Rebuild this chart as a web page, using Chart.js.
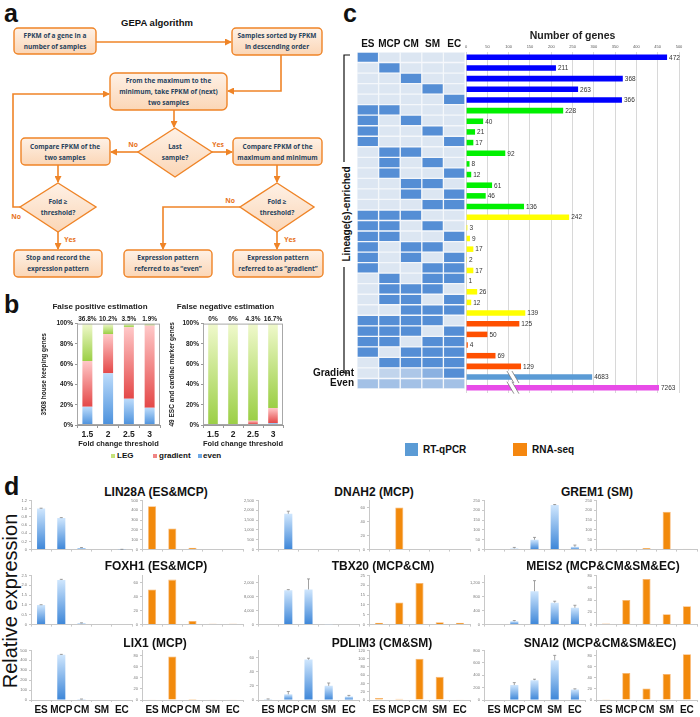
<!DOCTYPE html>
<html>
<head>
<meta charset="utf-8">
<script src="https://cdn.jsdelivr.net/npm/chart.js@4.4.1/dist/chart.umd.min.js"></script>
<style>
  body { margin: 0; background: #fff; }
  #fig { position: relative; width: 700px; height: 717px; overflow: hidden; font-family: "Liberation Sans", Arial, sans-serif; color: #111; }
  .panel { position: absolute; font-weight: bold; font-size: 25px; line-height: 1; }
  .gene { position: absolute; font-weight: bold; font-size: 12px; white-space: nowrap; transform: translate(-50%, -50%); }
  .leg { position: absolute; font-weight: bold; white-space: nowrap; }
  .sq { position: absolute; }
</style>
</head>
<body>
<div id="fig">
  <div class="panel" style="left:4px;top:1px">a</div>
  <div class="panel" style="left:4px;top:292px">b</div>
  <div class="panel" style="left:343px;top:1px">c</div>
  <div class="panel" style="left:4px;top:474px">d</div>

  <!-- GEPA flow chart -->
  <svg width="340" height="282" style="position:absolute;left:0;top:0" font-family="'Open Sans', sans-serif">
    <defs>
      <linearGradient id="bx" x1="0" y1="0" x2="0" y2="1">
        <stop offset="0" stop-color="#fef1e6"/>
        <stop offset="1" stop-color="#fbd6b6"/>
      </linearGradient>
      <marker id="ar" markerWidth="7" markerHeight="7" refX="6" refY="3.5" orient="auto" markerUnits="userSpaceOnUse">
        <path d="M0,0 L7,3.5 L0,7 z" fill="#ef8427"/>
      </marker>
    </defs>
    <text x="157" y="26" text-anchor="middle" font-family="'Liberation Sans', Arial" font-size="9.5" font-weight="bold" fill="#111">GEPA  algorithm</text>
    <g stroke="#ef8427" stroke-width="1.6" fill="none" marker-end="url(#ar)">
      <path d="M96,42 H231"/>
      <path d="M281,55 V91 H228"/>
      <path d="M174,110 V127"/>
      <path d="M138,152 H111"/>
      <path d="M212,152 H232"/>
      <path d="M58,165 V182"/>
      <path d="M22,207 H13 V94 H109"/>
      <path d="M58,232 V249"/>
      <path d="M277,165 V182"/>
      <path d="M241,207 H163 V249"/>
      <path d="M277,232 V249"/>
    </g>
    <g fill="url(#bx)" stroke="#ef8427" stroke-width="1.4">
      <rect x="14" y="28" width="82" height="26" rx="4"/>
      <rect x="232" y="28" width="90" height="27" rx="4"/>
      <rect x="110" y="73" width="117" height="37" rx="5"/>
      <polygon points="175,128 212,152 175,177 138,152"/>
      <rect x="21" y="138" width="89" height="27" rx="4"/>
      <rect x="233" y="138" width="89" height="27" rx="4"/>
      <polygon points="58,183 96,207 58,232 20,207"/>
      <polygon points="277,183 314,207 277,232 240,207"/>
      <rect x="14" y="250" width="88" height="27" rx="4"/>
      <rect x="124" y="250" width="88" height="27" rx="4"/>
      <rect x="233" y="250" width="90" height="27" rx="4"/>
    </g>
    <g font-size="6.5" font-weight="bold" fill="#27425c" text-anchor="middle" dominant-baseline="middle">
      <text x="55" y="36">FPKM of a gene in a</text>
      <text x="55" y="47">number of samples</text>
      <text x="277" y="36">Samples sorted by FPKM</text>
      <text x="277" y="47">in descending order</text>
      <text x="168.5" y="81">From the maximum to the</text>
      <text x="168.5" y="92">minimum, take FPKM of (next)</text>
      <text x="168.5" y="103">two samples</text>
      <text x="175" y="147">Last</text>
      <text x="175" y="158">sample?</text>
      <text x="65" y="147">Compare FPKM of the</text>
      <text x="65" y="158">two samples</text>
      <text x="277.5" y="147">Compare FPKM of the</text>
      <text x="277.5" y="158">maximum and minimum</text>
      <text x="58" y="202">Fold ≥</text>
      <text x="58" y="213">threshold?</text>
      <text x="277" y="202">Fold ≥</text>
      <text x="277" y="213">threshold?</text>
      <text x="58" y="258">Stop and record the</text>
      <text x="58" y="269">expression pattern</text>
      <text x="168" y="258">Expression pattern</text>
      <text x="168" y="269">referred to as “even”</text>
      <text x="278" y="258">Expression pattern</text>
      <text x="278" y="269">referred to as “gradient”</text>
    </g>
    <g font-size="6.8" font-weight="bold" fill="#e8741c" text-anchor="middle" dominant-baseline="middle">
      <text x="133" y="145">No</text>
      <text x="218" y="145">Yes</text>
      <text x="16" y="217">No</text>
      <text x="70" y="240">Yes</text>
      <text x="230" y="201">No</text>
      <text x="290" y="240">Yes</text>
    </g>
  </svg>

  <!-- panel b legend -->
  <div class="sq" style="left:111px;top:454px;width:4px;height:4px;background:#c5e37a"></div>
  <div class="leg" style="left:117px;top:451px;font-size:8px">LEG</div>
  <div class="sq" style="left:153px;top:454px;width:4px;height:4px;background:#f08585"></div>
  <div class="leg" style="left:159px;top:451px;font-size:8px">gradient</div>
  <div class="sq" style="left:198px;top:454px;width:4px;height:4px;background:#6fa9e6"></div>
  <div class="leg" style="left:203px;top:451px;font-size:8px">even</div>

  <!-- panel c bracket and side label -->
  <svg width="30" height="340" style="position:absolute;left:334px;top:50px">
    <path d="M16,5 H10 V112 M10,217 V323 H16" stroke="#111" stroke-width="1.2" fill="none"/>
    <text transform="translate(13,164) rotate(-90)" text-anchor="middle" dominant-baseline="middle" font-family="'Liberation Sans', Arial" font-size="10" font-weight="bold" fill="#111">Lineage(s)-enriched</text>
  </svg>

  <!-- RT-qPCR / RNA-seq legend -->
  <div class="sq" style="left:405px;top:443px;width:13px;height:13px;background:#5b9bd5"></div>
  <div class="leg" style="left:423px;top:444px;font-size:10px">RT-qPCR</div>
  <div class="sq" style="left:513px;top:443px;width:14px;height:13px;background:#f5870f"></div>
  <div class="leg" style="left:532px;top:444px;font-size:10px">RNA-seq</div>

  <div style="position:absolute;left:10px;top:601px;transform:translate(-50%,-50%) rotate(-90deg);font-size:20px;white-space:nowrap">Relative expression</div>
</div>

<script>
// ---- panel b: GEPA false positive / false negative estimation ----
const thresholds = ["1.5", "2", "2.5", "3"];
const fpEven = [18, 51, 26, 17];
const fpGradient = [45.2, 38.8, 70.5, 81.1];
const fpLeg = [36.8, 10.2, 3.5, 1.9];
const fpTopLabels = ["36.8%", "10.2%", "3.5%", "1.9%"];
const fnEven = [0, 0, 0.8, 2];
const fnGradient = [0, 0, 3.5, 14.7];
const fnLeg = [100, 100, 95.7, 83.3];
const fnTopLabels = ["0%", "0%", "4.3%", "16.7%"];

// ---- panel c: lineage patterns and gene counts ----
const sampleCols = ["ES", "MCP", "CM", "SM", "EC"];
const lineageRows = [
  [1,0,0,0,0],[0,1,0,0,0],[0,0,1,0,0],[0,0,0,1,0],[0,0,0,0,1],
  [1,1,0,0,0],[1,0,1,0,0],[1,0,0,1,0],[1,0,0,0,1],[0,1,1,0,0],
  [0,1,0,1,0],[0,1,0,0,1],[0,0,1,1,0],[0,0,1,0,1],[0,0,0,1,1],
  [1,1,1,0,0],[1,1,0,1,0],[1,1,0,0,1],[1,0,1,1,0],[1,0,1,0,1],
  [1,0,0,1,1],[0,1,0,1,1],[0,1,1,1,0],[0,1,1,0,1],[0,0,1,1,1],
  [1,1,1,1,0],[1,1,1,0,1],[1,1,0,1,1],[1,0,1,1,1],[0,1,1,1,1]
];
const gradientRow = [0, 0.2, 0.35, 0.6, 1];
const evenRow = [0.42, 0.42, 0.42, 0.42, 0.42];
const geneCounts = [472, 211, 368, 263, 366, 228, 40, 21, 17, 92, 8, 12, 61, 46, 136,
  242, 3, 9, 17, 2, 17, 1, 26, 12, 139, 125, 50, 4, 69, 129, 4683, 7263];
const brokenShown = [296, 453]; // drawn length of the broken Gradient / Even bars
const breakAt = 110;

// ---- panel d: RT-qPCR vs RNA-seq ----
const cellTypes = ["ES", "MCP", "CM", "SM", "EC"];
const geneNames = ["LIN28A (ES&MCP)", "DNAH2 (MCP)", "GREM1 (SM)",
  "FOXH1 (ES&MCP)", "TBX20 (MCP&CM)", "MEIS2 (MCP&CM&SM&EC)",
  "LIX1 (MCP)", "PDLIM3 (CM&SM)", "SNAI2 (MCP&CM&SM&EC)"];
const qpcrMean = [
  [1.0, 0.77, 0.04, 0, 0.005], [0, 1820, 0, 0, 0], [0, 6, 50, 226, 14],
  [1.0, 2.27, 0.07, 0, 0], [0, 9800, 10000, 30, 0], [0, 95, 950, 625, 480],
  [0, 455, 8, 0, 0], [1, 8, 57, 20, 5], [0, 240, 320, 640, 170]
];
const qpcrErr = [
  [0.01, 0.01, 0.01, 0, 0.002], [0, 130, 0, 0, 0], [0, 5, 12, 3, 9],
  [0.01, 0.03, 0.02, 0, 0], [0, 150, 3000, 0, 0], [0, 20, 300, 40, 70],
  [0, 5, 2, 0, 0], [0.5, 4, 2, 4, 1.5], [0, 40, 15, 80, 10]
];
const qpcrMax = [1.2, 2500, 250, 2.5, 14000, 1400, 500, 70, 800];
const qpcrStep = [0.2, 500, 50, 0.5, 2000, 200, 50, 10, 100];
const rnaseqFpkm = [
  [440, 215, 20, 0, 0], [0.8, 60, 0.8, 0.8, 0.8], [4, 4, 8, 192, 4],
  [50, 64, 5, 1.5, 1.5], [1, 11.2, 21.2, 1.2, 1], [2, 40, 74, 17, 30],
  [1.5, 79, 2, 1.5, 1.5], [5, 3, 100, 56, 2], [1.5, 49, 21, 47, 83]
];
const rnaseqPale = [
  [0,0,0,1,1], [0,0,0,0,0], [1,1,0,0,1],
  [0,0,0,1,1], [0,0,0,0,0], [1,0,0,0,0],
  [1,0,0,1,1], [0,0,0,0,1], [0,0,0,0,0]
];
const rnaseqMax = [500, 70, 250, 70, 25, 80, 90, 120, 90];
const rnaseqStep = [50, 10, 50, 10, 5, 10, 10, 20, 10];

Chart.defaults.animation = false;
Chart.defaults.font.family = '"Liberation Sans", Arial, sans-serif';
Chart.defaults.plugins.legend.display = false;
Chart.defaults.plugins.tooltip.enabled = false;
Chart.defaults.maintainAspectRatio = false;

const fig = document.getElementById("fig");
function place(l, t, w, h) {
  const d = document.createElement("div");
  d.style.cssText = "position:absolute;left:" + l + "px;top:" + t + "px;width:" + w + "px;height:" + h + "px";
  const c = document.createElement("canvas");
  d.appendChild(c);
  fig.appendChild(d);
  return c;
}

// vertical gradient for a stacked segment, light on top, dark at bottom
function stackFill(light, dark, series) {
  return ctx => {
    const ch = ctx.chart;
    if (ctx.type !== "data" || !ch.chartArea) return dark;
    const y = ch.scales.y;
    let lo = 0;
    for (let k = 0; k < ctx.datasetIndex; k++) lo += series[k][ctx.dataIndex];
    const hi = lo + series[ctx.datasetIndex][ctx.dataIndex];
    const g = ch.ctx.createLinearGradient(0, y.getPixelForValue(hi), 0, y.getPixelForValue(lo) + 0.01);
    g.addColorStop(0, light);
    g.addColorStop(1, dark);
    return g;
  };
}

const frameBox = {
  id: "frameBox",
  afterDraw(ch) {
    const a = ch.chartArea, c = ch.ctx;
    c.save();
    c.strokeStyle = "#a8a8a8";
    c.lineWidth = 1;
    c.strokeRect(a.left + 0.5, a.top + 0.5, a.width - 1, a.height - 1);
    c.restore();
  }
};

function estimationChart(canvas, title, yTitle, series, topLabels, yW, padR) {
  new Chart(canvas, {
    type: "bar",
    data: {
      labels: thresholds,
      datasets: [
        { label: "even", data: series[0], backgroundColor: stackFill("#bddcfb", "#4a90dc", series) },
        { label: "gradient", data: series[1], backgroundColor: stackFill("#ffc8c8", "#e44848", series) },
        { label: "LEG", data: series[2], backgroundColor: stackFill("#f0f9cc", "#9bcf45", series) }
      ]
    },
    options: {
      layout: { padding: { right: padR } },
      datasets: { bar: { barPercentage: 0.48, categoryPercentage: 1 } },
      plugins: {
        title: { display: true, text: title, color: "#222", font: { size: 8, weight: "bold" }, padding: { top: 2, bottom: 12 } }
      },
      scales: {
        x: {
          stacked: true,
          grid: { drawOnChartArea: false, tickLength: 3, color: "#999" },
          border: { color: "#999" },
          ticks: { color: "#222", font: { size: 8.5, weight: "bold" }, padding: 2 },
          title: { display: true, text: "Fold change threshold", color: "#222", font: { size: 7.5, weight: "bold" }, padding: { top: 0, bottom: 2 } },
          afterFit: s => { s.height = 25; }
        },
        y: {
          stacked: true, min: 0, max: 100,
          ticks: { stepSize: 10, callback: v => v + "%", color: "#222", font: { size: 6.5, weight: "bold" }, padding: 2 },
          grid: { drawOnChartArea: false, tickLength: 2, color: "#999" },
          border: { color: "#999" },
          title: { display: true, text: yTitle, color: "#222", font: { size: 6.5, weight: "bold" }, padding: 0 },
          afterFit: s => { s.width = yW; }
        }
      }
    },
    plugins: [frameBox, {
      id: "topPct",
      afterDatasetsDraw(ch) {
        const c = ch.ctx, x = ch.scales.x;
        c.save();
        c.font = 'bold 6.5px "Liberation Sans", Arial';
        c.fillStyle = "#222";
        c.textAlign = "center";
        c.textBaseline = "bottom";
        topLabels.forEach((t, i) => c.fillText(t, x.getPixelForValue(i), ch.chartArea.top - 1));
        c.restore();
      }
    }]
  });
}

estimationChart(place(40, 300, 142, 150), "False positive estimation", "3508 house keeping genes",
  [fpEven, fpGradient, fpLeg], fpTopLabels, 37, 22);
estimationChart(place(168, 300, 132, 150), "False negative estimation", "49 ESC and cardiac marker genes",
  [fnEven, fnGradient, fnLeg], fnTopLabels, 35, 17);

// ---- panel c ----
const heatRows = lineageRows.concat([gradientRow, evenRow]);
const rowLabels = heatRows.map((_, i) => i === 30 ? "Gradient" : i === 31 ? "Even" : "");

function shade(t) {
  const a = [220, 230, 242], b = [85, 142, 213];
  return "rgb(" + a.map((v, k) => Math.round(v + (b[k] - v) * t)).join(",") + ")";
}

new Chart(place(300, 26, 168, 372), {
  type: "bar",
  data: {
    labels: rowLabels,
    datasets: sampleCols.map((name, c) => ({
      label: name,
      data: heatRows.map(() => [c, c + 1]),
      backgroundColor: heatRows.map(r => shade(r[c])),
      borderColor: "#f4f7fb",
      borderWidth: 1,
      borderSkipped: false,
      grouped: false,
      barPercentage: 1,
      categoryPercentage: 1
    }))
  },
  options: {
    indexAxis: "y",
    layout: { padding: { right: 3, bottom: 5 } },
    scales: {
      x: {
        type: "linear", position: "top", min: 0, max: 5,
        afterBuildTicks: s => { s.ticks = [0.5, 1.5, 2.5, 3.5, 4.5].map(v => ({ value: v })); },
        ticks: { callback: v => sampleCols[Math.floor(v)], autoSkip: false, maxRotation: 0, color: "#111", font: { size: 10, weight: "bold" }, padding: 2 },
        grid: { display: false, drawTicks: false },
        border: { display: false },
        afterFit: s => { s.height = 26; }
      },
      y: {
        ticks: { autoSkip: false, color: "#111", font: { size: 10, weight: "bold" }, padding: 3 },
        grid: { display: false, drawTicks: false },
        border: { display: false },
        afterFit: s => { s.width = 57; }
      }
    }
  }
});

const groupSizes = [5, 10, 10, 5, 1, 1];
const groupColors = ["#0000ff", "#00f000", "#ffff00", "#ff5000", "#5b9bd5", "#e84ce8"];
const barColors = [];
groupSizes.forEach((n, k) => { for (let i = 0; i < n; i++) barColors.push(groupColors[k]); });
const barLengths = geneCounts.map((v, i) => i < 30 ? v : brokenShown[i - 30]);

new Chart(place(462, 26, 238, 372), {
  type: "bar",
  data: {
    labels: rowLabels,
    datasets: [{ data: barLengths, backgroundColor: barColors, barPercentage: 0.52, categoryPercentage: 1 }]
  },
  options: {
    indexAxis: "y",
    layout: { padding: { left: 4, right: 21, bottom: 5 } },
    scales: {
      x: {
        position: "top", min: 0, max: 500,
        ticks: { stepSize: 50, color: "#555", font: { size: 4 }, padding: 3 },
        grid: { color: "#d8d8d8", drawTicks: false },
        border: { display: false },
        title: { display: true, text: "Number of genes", color: "#222", font: { size: 10.5, weight: "bold" }, padding: { top: 4, bottom: 0 } },
        afterFit: s => { s.height = 26; }
      },
      y: { display: false }
    }
  },
  plugins: [{
    id: "counts",
    afterDatasetsDraw(ch) {
      const c = ch.ctx, x = ch.scales.x, y = ch.scales.y;
      c.save();
      c.font = '6.5px "Liberation Sans", Arial';
      c.fillStyle = "#333";
      c.textBaseline = "middle";
      geneCounts.forEach((v, i) => c.fillText(String(v), x.getPixelForValue(barLengths[i]) + 2, y.getPixelForValue(i) + 0.5));
      // axis breaks on the Gradient and Even bars
      [30, 31].forEach(i => {
        const px = x.getPixelForValue(breakAt), py = y.getPixelForValue(i);
        c.fillStyle = "#fff";
        c.beginPath();
        c.moveTo(px - 6, py - 6); c.lineTo(px - 1, py - 6);
        c.lineTo(px + 6, py + 6); c.lineTo(px + 1, py + 6);
        c.closePath(); c.fill();
        c.strokeStyle = "#777";
        c.lineWidth = 0.8;
        c.beginPath();
        c.moveTo(px - 6, py - 6); c.lineTo(px + 1, py + 6);
        c.moveTo(px - 1, py - 6); c.lineTo(px + 6, py + 6);
        c.stroke();
      });
      c.restore();
    }
  }]
});

// ---- panel d ----
const blueLeft = [31, 258, 484];
const orangeLeft = [142, 369, 596];
const rowTop = [500, 575, 650];
const titleX = [156, 374, 597, 156, 383, 603, 155, 382, 600];
const titleY = [492, 566, 643];

function blueFill(ctx) {
  const ch = ctx.chart;
  if (ctx.type !== "data" || !ch.chartArea) return "#5b9bd5";
  const y = ch.scales.y;
  const top = y.getPixelForValue(ctx.parsed.y), bot = y.getPixelForValue(0);
  const g = ch.ctx.createLinearGradient(0, top, 0, bot + 0.01);
  g.addColorStop(0, "#cfe6fd");
  g.addColorStop(1, "#3d86d8");
  return g;
}

function exprChart(canvas, values, max, step, showLabels, bottomH, fill, border, errors) {
  const plugins = [];
  if (errors) {
    plugins.push({
      id: "errBars",
      afterDatasetsDraw(ch) {
        const c = ch.ctx, x = ch.scales.x, y = ch.scales.y;
        c.save();
        c.strokeStyle = "#8a8a8a";
        c.lineWidth = 0.8;
        values.forEach((v, i) => {
          if (!errors[i]) return;
          const px = x.getPixelForValue(i), y0 = y.getPixelForValue(v), y1 = y.getPixelForValue(v + errors[i]);
          c.beginPath();
          c.moveTo(px, y0); c.lineTo(px, y1);
          c.moveTo(px - 1.5, y1); c.lineTo(px + 1.5, y1);
          c.stroke();
        });
        c.restore();
      }
    });
  }
  new Chart(canvas, {
    type: "bar",
    data: {
      labels: cellTypes,
      datasets: [{ data: values, backgroundColor: fill, borderColor: border, borderWidth: border ? 0.8 : 0, barPercentage: 0.4, categoryPercentage: 1 }]
    },
    options: {
      layout: { padding: { top: 4, right: 4 } },
      scales: {
        x: {
          grid: { drawOnChartArea: false, tickLength: 2, color: "#c8c8c8" },
          border: { color: "#c8c8c8" },
          ticks: { display: showLabels, autoSkip: false, maxRotation: 0, color: "#111", font: { size: 10, weight: "bold" }, padding: 2 },
          afterFit: s => { s.height = bottomH; }
        },
        y: {
          min: 0, max: max,
          ticks: { stepSize: step, color: "#777", font: { size: 4 }, padding: 2 },
          grid: { drawOnChartArea: false, tickLength: 2, color: "#c8c8c8" },
          border: { color: "#c8c8c8" },
          afterFit: s => { s.width = 14; }
        }
      }
    },
    plugins: plugins
  });
}

geneNames.forEach((name, g) => {
  const r = Math.floor(g / 3), c = g % 3;
  const bottomH = r === 2 ? 17 : 4;
  const t = document.createElement("div");
  t.className = "gene";
  t.style.left = titleX[g] + "px";
  t.style.top = titleY[r] + "px";
  t.textContent = name;
  fig.appendChild(t);

  exprChart(place(blueLeft[c] - 14, rowTop[r] - 4, 101 + 18, 54 + bottomH),
    qpcrMean[g], qpcrMax[g], qpcrStep[g], r === 2, bottomH, blueFill, null, qpcrErr[g]);
  exprChart(place(orangeLeft[c] - 14, rowTop[r] - 4, 101 + 18, 54 + bottomH),
    rnaseqFpkm[g], rnaseqMax[g], rnaseqStep[g], r === 2, bottomH,
    rnaseqPale[g].map(p => p ? "#f7d0a6" : "#f28a0c"),
    rnaseqPale[g].map(p => p ? "#f9dcc0" : "#f8b36a"), null);
});
</script>
</body>
</html>
